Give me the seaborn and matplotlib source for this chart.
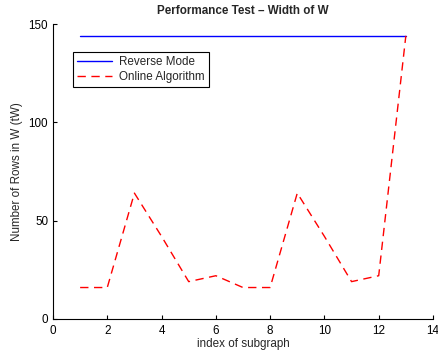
import numpy as np
import pandas as pd
import matplotlib
matplotlib.use("Agg")
import matplotlib.pyplot as plt
import seaborn as sns

idx = [1, 2, 3, 4, 5, 6, 7, 8, 9, 10, 11, 12, 13]
reverse_mode = [144] * 13
online_alg = [16, 16, 64, 42, 19, 22, 16, 16, 64, 42, 19, 22, 144]

sns.set_style("ticks")
plt.rcParams['font.family'] = ['Liberation Sans', 'DejaVu Sans']
plt.rcParams['xtick.direction'] = 'in'
plt.rcParams['ytick.direction'] = 'in'

fs = 8.4
fig = plt.figure(figsize=(4.39, 3.51), dpi=100)
ax = fig.add_axes([0.1207, 0.0912, 0.8656, 0.8404])

sns.lineplot(x=idx, y=reverse_mode, ax=ax, color='blue', linewidth=1, label='Reverse Mode')
sns.lineplot(x=idx, y=online_alg, ax=ax, color='red', linewidth=1, label='Online Algorithm',
             dashes=False)
ax.lines[1].set_dashes([6, 4])

ax.set_xlim(0, 14)
ax.set_ylim(0, 150)
ax.set_xticks(range(0, 15, 2))
ax.set_yticks([0, 50, 100, 150])
ax.tick_params(labelsize=fs, length=3, width=0.8, colors='black')
ax.tick_params(axis='x', pad=4)
ax.set_xlabel('index of subgraph', fontsize=fs, labelpad=1)
ax.set_ylabel('Number of Rows in W (tW)', fontsize=fs)
ax.set_title('Performance Test \u2013 Width of W', fontsize=fs, fontweight='bold', pad=7)
sns.despine(ax=ax)
for s in ['left', 'bottom']:
    ax.spines[s].set_color('black')
    ax.spines[s].set_linewidth(0.8)

leg = ax.legend(loc='upper left', bbox_to_anchor=(0.037, 0.925), fontsize=fs, frameon=True,
                fancybox=False, edgecolor='black', framealpha=1, borderpad=0.35,
                handlelength=3, handletextpad=0.6, labelspacing=0.25)
leg.get_frame().set_linewidth(0.8)

fig.savefig('out.png', dpi=100)
